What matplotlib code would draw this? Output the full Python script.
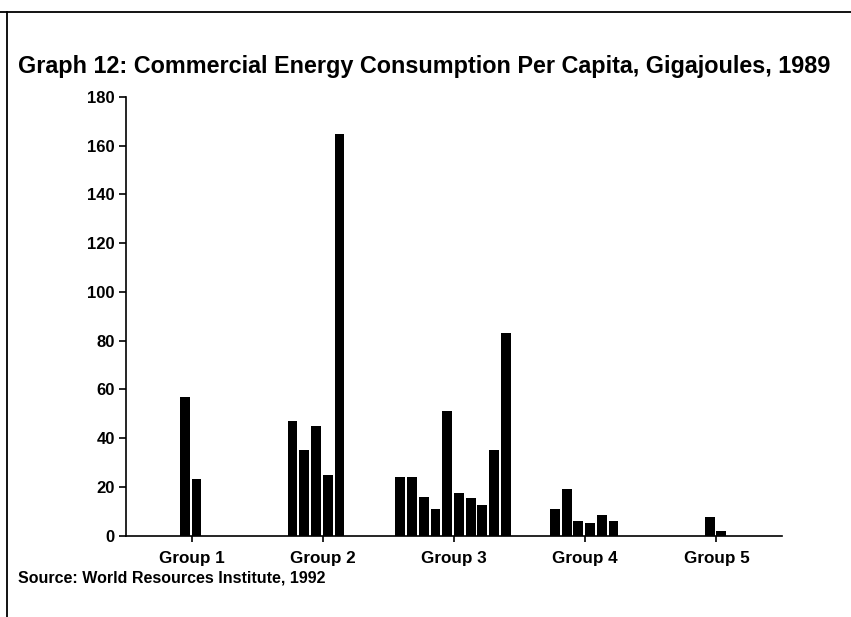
import matplotlib.pyplot as plt
from matplotlib.lines import Line2D
import numpy as np

plt.rcParams['font.family'] = ['Liberation Sans', 'DejaVu Sans']
plt.rcParams['font.weight'] = 'bold'

groups = ['Group 1', 'Group 2', 'Group 3', 'Group 4', 'Group 5']
values = [
    [57, 23],
    [47, 35, 45, 25, 165],
    [24, 24, 16, 11, 51, 17.5, 15.5, 12.5, 35, 83],
    [11, 19, 6, 5, 8.5, 6],
    [7.5, 2],
]
yticks = [0, 20, 40, 60, 80, 100, 120, 140, 160, 180]

fig = plt.figure(figsize=(8.51, 6.17), dpi=100)
ax = fig.add_axes([126/851, 1-535.5/617, 656/851, 438.5/617])

slot = 0.0893  # width of one bar slot, in group units
for g, vals in enumerate(values):
    n = len(vals)
    start = 5 - int(np.ceil(n / 2))
    xs = g + (np.arange(n) + start - 5) * slot
    ax.bar(xs, vals, width=slot*0.84, align='edge', color='black')

ax.set_xlim(-0.5, 4.5)
ax.set_ylim(0, 180)
ax.set_yticks(yticks)
ax.set_xticks(range(len(groups)))
ax.set_xticklabels(groups)
for s in ['top', 'right']:
    ax.spines[s].set_visible(False)
ax.spines['left'].set_linewidth(1.2)
ax.spines['bottom'].set_linewidth(1.2)
ax.tick_params(axis='y', length=5, width=1.2, labelsize=12, pad=3)
ax.tick_params(axis='x', length=4, width=1.2, labelsize=12.3, pad=7)

fig.text(18/851, 1-66/617, 'Graph 12: Commercial Energy Consumption Per Capita, Gigajoules, 1989',
         fontsize=16.8, fontweight='bold', va='center', ha='left')
fig.text(18/851, 1-578/617, 'Source: World Resources Institute, 1992',
         fontsize=11.5, fontweight='bold', va='center', ha='left')

# page frame
fig.add_artist(Line2D([0, 1], [1-12/617, 1-12/617], color='black', lw=1.3))
fig.add_artist(Line2D([7/851, 7/851], [0, 1-12/617], color='black', lw=1.3))

fig.savefig('out.png', dpi=100)
